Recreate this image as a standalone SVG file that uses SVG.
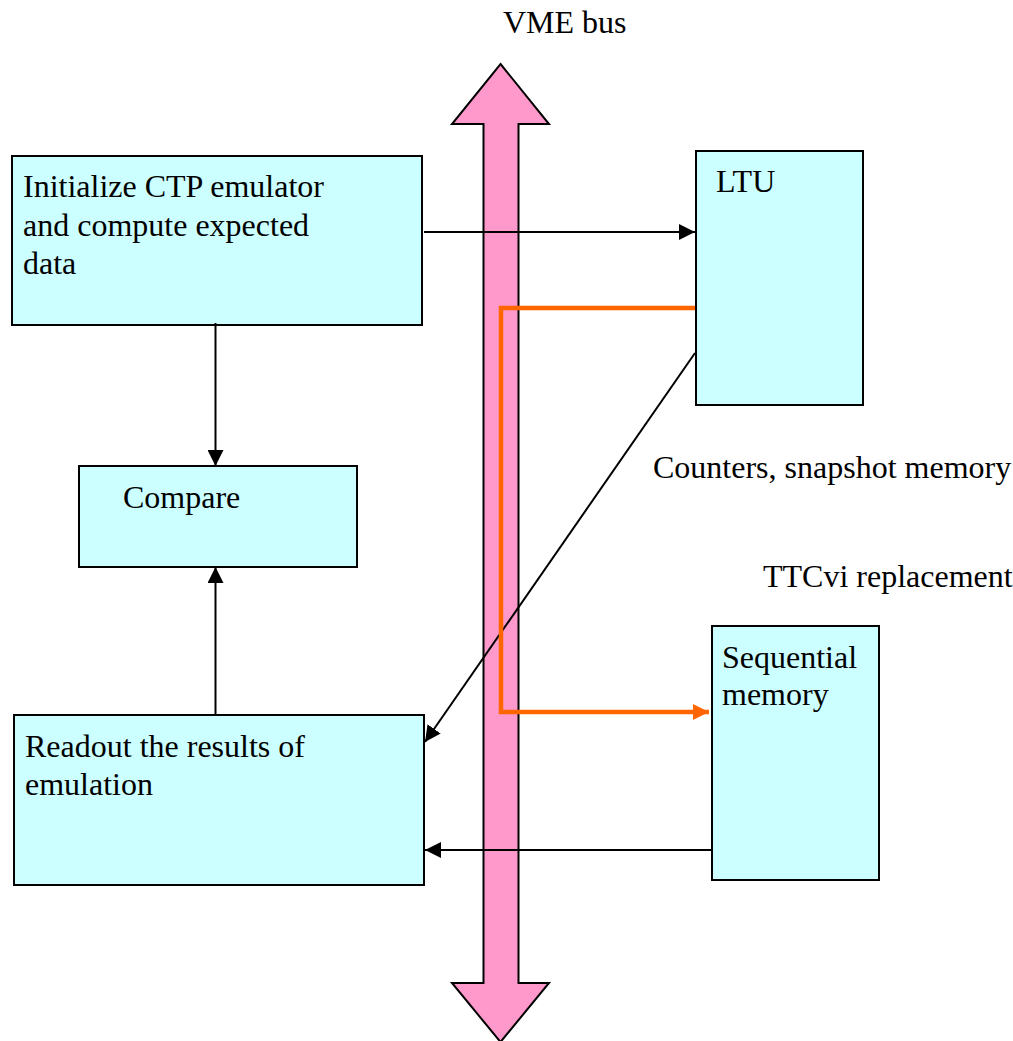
<svg xmlns="http://www.w3.org/2000/svg" width="1013" height="1041" viewBox="0 0 1013 1041">
  <style>
    .box { fill: #CCFFFF; stroke: #000; stroke-width: 2; }
    .lbl { font-family: 'Liberation Serif', 'Times New Roman', Times, 'DejaVu Serif', serif; font-size: 32px; fill: #000; }
    .wire { fill: none; stroke: #000; stroke-width: 2; }
    .hot { fill: none; stroke: #FF6600; stroke-width: 4.5; stroke-linejoin: miter; }
  </style>
  <defs>
    <marker id="arrowBlack" markerUnits="userSpaceOnUse" markerWidth="18" markerHeight="16" refX="16" refY="8" orient="auto">
      <path d="M0,0 L16,8 L0,16 Z" fill="#000"/>
    </marker>
    <marker id="arrowOrange" markerUnits="userSpaceOnUse" markerWidth="18" markerHeight="16" refX="16" refY="8" orient="auto">
      <path d="M0,0 L16,8 L0,16 Z" fill="#FF6600"/>
    </marker>
  </defs>
  <rect width="1013" height="1041" fill="#fff"/>

  <!-- VME bus: double-headed vertical arrow -->
  <g id="vme-bus">
    <polygon points="500.5,64 549,124 518.5,124 518.5,983 549,983 500.5,1042 452,983 483.5,983 483.5,124 452,124" fill="#FF99CC" stroke="#000" stroke-width="2" stroke-linejoin="miter"/>
    <text class="lbl" font-family="Liberation Serif" x="503" y="33">VME bus</text>
  </g>

  <g id="init">
    <rect class="box" x="12" y="156" width="410" height="169"/>
    <text class="lbl" font-family="Liberation Serif" x="23" y="197">Initialize CTP emulator</text>
    <text class="lbl" font-family="Liberation Serif" x="23" y="236">and compute expected</text>
    <text class="lbl" font-family="Liberation Serif" x="23" y="274">data</text>
  </g>

  <g id="compare">
    <rect class="box" x="79" y="466" width="278" height="101"/>
    <text class="lbl" font-family="Liberation Serif" x="123" y="508">Compare</text>
  </g>

  <g id="readout">
    <rect class="box" x="14" y="715" width="410" height="170"/>
    <text class="lbl" font-family="Liberation Serif" x="25" y="757">Readout the results of</text>
    <text class="lbl" font-family="Liberation Serif" x="25" y="795">emulation</text>
  </g>

  <g id="ltu">
    <rect class="box" x="696" y="151" width="167" height="254"/>
    <text class="lbl" font-family="Liberation Serif" x="716" y="192">LTU</text>
  </g>

  <g id="seqmem">
    <rect class="box" x="712" y="626" width="167" height="254"/>
    <text class="lbl" font-family="Liberation Serif" x="722" y="668">Sequential</text>
    <text class="lbl" font-family="Liberation Serif" x="722" y="705">memory</text>
  </g>

  <g id="notes">
    <text class="lbl" font-family="Liberation Serif" x="653" y="478">Counters, snapshot memory</text>
    <text class="lbl" font-family="Liberation Serif" x="763" y="587">TTCvi replacement</text>
  </g>

  <g id="connectors">
    <line class="wire" x1="424" y1="232" x2="695" y2="232" marker-end="url(#arrowBlack)"/>
    <line class="wire" x1="215.5" y1="323" x2="215.5" y2="466" marker-end="url(#arrowBlack)"/>
    <line class="wire" x1="215.5" y1="715" x2="215.5" y2="567" marker-end="url(#arrowBlack)"/>
    <line class="wire" x1="695" y1="353" x2="425" y2="742" marker-end="url(#arrowBlack)"/>
    <line class="wire" x1="711" y1="850" x2="425" y2="850" marker-end="url(#arrowBlack)"/>
    <path class="hot" d="M695,308 H501 V712 H709" marker-end="url(#arrowOrange)"/>
  </g>
</svg>
